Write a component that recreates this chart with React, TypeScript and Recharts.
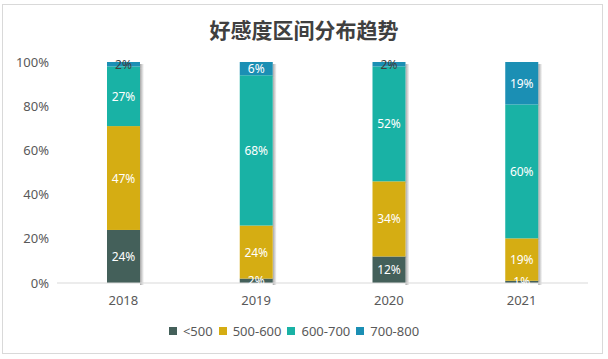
import { Bar, BarChart, LabelList, Legend, XAxis, YAxis } from "recharts";

const years = ["2018", "2019", "2020", "2021"];
const below500 = [24, 2, 12, 1];
const from500 = [47, 24, 34, 19];
const from600 = [27, 68, 52, 60];
const from700 = [2, 6, 2, 19];
const yTicks = [0, 0.2, 0.4, 0.6, 0.8, 1];

const series = [
  { key: "a", name: "<500", color: "#44605a" },
  { key: "b", name: "500-600", color: "#d5ad13" },
  { key: "c", name: "600-700", color: "#19b2a5" },
  { key: "d", name: "700-800", color: "#1b8fb4" },
];

const data = years.map((year, i) => ({
  year,
  a: below500[i],
  b: from500[i],
  c: from600[i],
  d: from700[i],
}));

const font = '"Noto Sans", "Noto Sans CJK SC", sans-serif';

function ShadowBar(props: any) {
  const { x, y, width, height, fill } = props;
  if (!height || height <= 0) return null;
  return (
    <g>
      <rect x={x + width} y={y + 2} width={4} height={height} fill="url(#barShadow)" />
      <rect x={x} y={y} width={width} height={height} fill={fill} />
    </g>
  );
}

function SegmentLabel(props: any) {
  const { x, y, width, height, value, seriesKey } = props;
  const small = seriesKey === "d" && Number(value) <= 2;
  return (
    <text
      x={x + width / 2}
      y={y + height / 2}
      textAnchor="middle"
      dominantBaseline="central"
      fontSize={12}
      fontFamily={font}
      fill={small ? "#404040" : "#ffffff"}
    >
      {`${value}%`}
    </text>
  );
}

function LegendContent(props: any) {
  const items = props.payload ?? [];
  return (
    <div style={{ display: "flex", justifyContent: "center", alignItems: "center", gap: 6 }}>
      {items.map((item: any) => (
        <div key={item.value} style={{ display: "flex", alignItems: "center", gap: 6 }}>
          <span style={{ width: 8, height: 8, background: item.color, display: "inline-block" }} />
          <span style={{ fontSize: 13, color: "#595959", fontFamily: font }}>{item.value}</span>
        </div>
      ))}
    </div>
  );
}

export default function App() {
  return (
    <div style={{ position: "fixed", left: 0, top: 0, width: 608, height: 359, background: "#fff" }}>
      <div
        style={{
          position: "absolute",
          left: 2,
          top: 4,
          width: 601,
          height: 350,
          border: "1px solid #d9d9d9",
          boxSizing: "border-box",
        }}
      />
      <div
        style={{
          position: "absolute",
          left: 0,
          top: 14,
          width: 608,
          textAlign: "center",
          fontFamily: font,
          fontWeight: 700,
          fontSize: 21,
          color: "#404040",
        }}
      >
        好感度区间分布趋势
      </div>
      <BarChart
        width={608}
        height={359}
        data={data}
        stackOffset="expand"
        margin={{ top: 62, right: 20, bottom: 28, left: 0 }}
        style={{ position: "absolute", left: 0, top: 0 }}
      >
        <defs>
          <linearGradient id="barShadow" x1="0" y1="0" x2="1" y2="0">
            <stop offset="0%" stopColor="#000" stopOpacity={0.35} />
            <stop offset="100%" stopColor="#000" stopOpacity={0} />
          </linearGradient>
        </defs>
        <XAxis
          dataKey="year"
          tick={{ fontSize: 13, fill: "#595959", fontFamily: font }}
          stroke="#d9d9d9"
          tickLine={false}
          tickMargin={7}
        />
        <YAxis
          ticks={yTicks}
          domain={[0, 1]}
          tickFormatter={(v) => `${Math.round(v * 100)}%`}
          tick={{ fontSize: 13, fill: "#595959", fontFamily: font }}
          axisLine={false}
          tickLine={false}
          width={57}
        />
        <Legend
          itemSorter={null}
          content={LegendContent}
          wrapperStyle={{ bottom: 19 }}
        />
        {series.map((s) => (
          <Bar
            key={s.key}
            dataKey={s.key}
            name={s.name}
            stackId="total"
            fill={s.color}
            barSize={33}
            shape={ShadowBar}
            isAnimationActive={false}
          >
            <LabelList
              dataKey={s.key}
              content={(p: any) => <SegmentLabel {...p} seriesKey={s.key} />}
            />
          </Bar>
        ))}
      </BarChart>
    </div>
  );
}
